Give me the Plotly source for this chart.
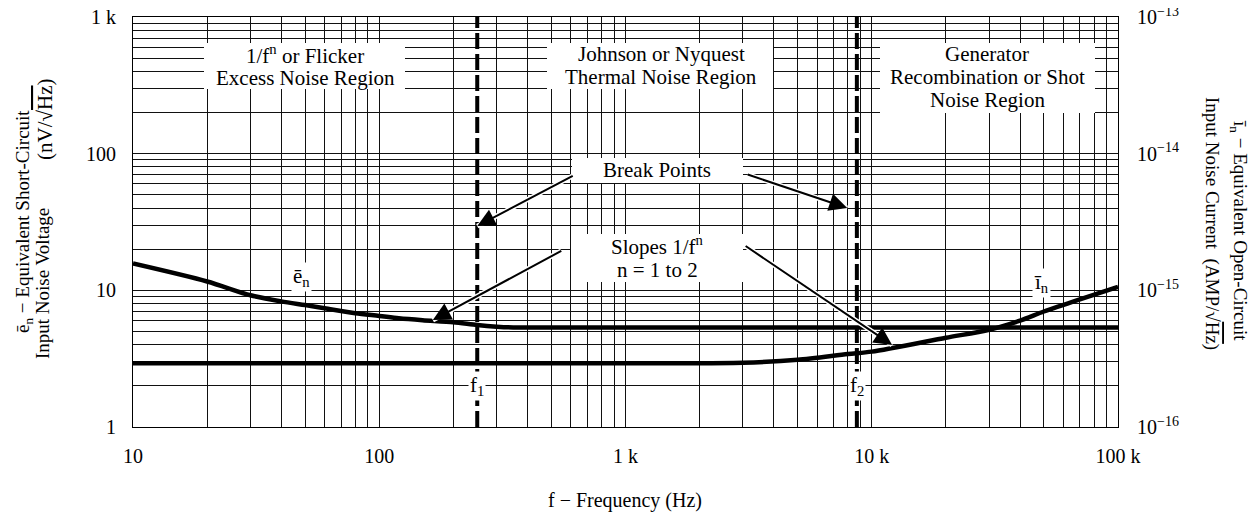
import numpy as np
import plotly.graph_objects as go

# ---------------- data ----------------
freq_en = [10, 20, 30, 40, 50, 60, 80, 100, 120, 150, 200, 250, 300, 350, 500, 1000, 10000, 100000]
e_n = [15.7, 11.6, 9.2, 8.3, 7.8, 7.4, 6.8, 6.5, 6.25, 6.05, 5.85, 5.57, 5.42, 5.35, 5.35, 5.35, 5.35, 5.35]

freq_in = [10, 100, 1000, 3000, 5000, 8000, 10000, 20000, 30000, 40000, 50000, 70000, 100000]
i_n = [2.93e-16, 2.93e-16, 2.93e-16, 2.95e-16, 3.1e-16, 3.42e-16, 3.56e-16, 4.5e-16, 5.15e-16,
       6.0e-16, 7.0e-16, 8.6e-16, 1.06e-15]

f1 = 250
f2 = 8700

x_tick_vals = [10, 100, 1000, 10000, 100000]
x_tick_text = ["10", "100", "1 k", "10 k", "100 k"]
y_tick_vals = [1, 10, 100, 1000]
y_tick_text = ["1", "10", "100", "1 k"]
y2_tick_vals = [1e-16, 1e-15, 1e-14, 1e-13]
y2_tick_text = ["10<sup>\u221216</sup>", "10<sup>\u221215</sup>", "10<sup>\u221214</sup>", "10<sup>\u221213</sup>"]

# ---------------- layout geometry ----------------
OFF = 8  # default page body margin
W, H = 1258 - OFF, 516 - OFF
ML, MR, MT, MB = 125, 140, 9, 89
PW, PH = W - ML - MR, H - MT - MB
FONT = "Liberation Serif, Times New Roman, serif"


def px(x):
    return (x - OFF - ML) / PW


def py(y):
    return (H - MB - (y - OFF)) / PH


def grid_vals(lo_exp, hi_exp):
    vals = []
    for k in range(lo_exp, hi_exp):
        for m in range(1, 10):
            vals.append(m * 10 ** k)
    vals.append(10 ** hi_exp)
    return vals


def grid_text(vals, major_vals, major_text):
    out = []
    for v in vals:
        match = [t for mv, t in zip(major_vals, major_text) if abs(np.log10(v) - np.log10(mv)) < 1e-9]
        out.append(match[0] if match else " ")
    return out


xg = grid_vals(1, 5)
yg = grid_vals(0, 3)

fig = go.Figure()

# break-point dashed lines
for f in (f1, f2):
    fig.add_trace(go.Scatter(x=[f, f], y=[1, 1000], mode="lines",
                             line=dict(color="black", width=4, dash="16px,5px"),
                             showlegend=False, hoverinfo="skip"))

fig.add_trace(go.Scatter(x=freq_en, y=e_n, mode="lines",
                         line=dict(color="black", width=4.5, shape="spline", smoothing=0.8),
                         showlegend=False))
fig.add_trace(go.Scatter(x=freq_in, y=i_n, mode="lines", yaxis="y2",
                         line=dict(color="black", width=4.5, shape="spline", smoothing=0.8),
                         showlegend=False))

axis_common = dict(showline=True, linecolor="black", linewidth=1, ticks="", automargin=False,
                   tickangle=0,
                   tickfont=dict(family=FONT, size=20, color="black"), zeroline=False)

fig.update_layout(
    width=W, height=H,
    margin=dict(l=ML, r=MR, t=MT, b=MB, autoexpand=False),
    paper_bgcolor="white", plot_bgcolor="white",
    font=dict(family=FONT, size=20, color="black"),
    xaxis=dict(type="log", range=[1, 5], tickmode="array", tickvals=xg,
               ticktext=grid_text(xg, x_tick_vals, x_tick_text), mirror=True,
               gridcolor="#111111", gridwidth=1,
               ticklabelstandoff=11, **axis_common),
    yaxis=dict(type="log", range=[0, 3], tickmode="array", tickvals=yg,
               ticktext=grid_text(yg, y_tick_vals, y_tick_text), mirror=True,
               gridcolor="#111111", gridwidth=1,
               ticklabelstandoff=12, **axis_common),
    yaxis2=dict(type="log", range=[-16, -13], overlaying="y", side="right",
                tickmode="array", tickvals=y2_tick_vals, ticktext=y2_tick_text,
                showgrid=False, ticklabelstandoff=14, **axis_common),
)

# white boxes behind text labels (page pixel coordinates -> paper)
boxes = [
    (204, 43, 405, 89),
    (547, 43, 773, 89),
    (880, 43, 1095, 113),
    (572, 158, 743, 183),
    (571, 234, 743, 282),
]
for x0, y0, x1, y1 in boxes:
    fig.add_shape(type="rect", xref="paper", yref="paper",
                  x0=px(x0), x1=px(x1), y0=py(y1), y1=py(y0),
                  fillcolor="white", line=dict(width=0), layer="above")

texts = [
    ("1/f<sup>n</sup> or Flicker", 305, 55),
    ("Excess Noise Region", 305, 78),
    ("Johnson or Nyquest", 661, 54),
    ("Thermal Noise Region", 661, 77),
    ("Generator", 987, 54),
    ("Recombination or Shot", 987, 77),
    ("Noise Region", 987, 100),
    ("Break Points", 657, 170),
    ("Slopes 1/f<sup>n</sup>", 657, 245),
    ("n = 1 to 2", 657, 270),
]
for t, x, y in texts:
    fig.add_annotation(text=t, xref="paper", yref="paper", x=px(x), y=py(y),
                       xanchor="center", yanchor="middle", showarrow=False,
                       font=dict(family=FONT, size=21, color="black"))

# arrows: (tip x, tip y in data units, tail offset px)
arrows = [
    (f1 * 1.0, 29.5, 97, -51),
    (7950, 40, -101, -34),
    (165, 6.06, 130, -70),
    (12100, 3.98, -148, -100),
]
for xa, ya, ax, ay in arrows:
    fig.add_annotation(x=np.log10(xa), y=np.log10(ya), xref="x", yref="y",
                       ax=ax, ay=ay, axref="pixel", ayref="pixel",
                       showarrow=True, arrowhead=0, arrowwidth=5, arrowcolor="white", text="")
    fig.add_annotation(x=np.log10(xa), y=np.log10(ya), xref="x", yref="y",
                       ax=ax, ay=ay, axref="pixel", ayref="pixel",
                       showarrow=True, arrowhead=2, arrowsize=1.8,
                       arrowwidth=2, arrowcolor="black", text="")

# curve & break labels
labels = [
    ("\u0113<sub>n</sub>", 48.5, 12.5),
    ("i\u0304<sub>n</sub>", 49000, 11.3),
    ("f<sub>1</sub>", f1, 2),
    ("f<sub>2</sub>", f2, 2),
]
for t, xv, yv in labels:
    fig.add_annotation(text=t, x=np.log10(xv), y=np.log10(yv), xref="x", yref="y",
                       showarrow=False, bgcolor="white", borderpad=1,
                       font=dict(family=FONT, size=21, color="black"))

# axis titles
HZ = "\u221a<span style='text-decoration:overline'>Hz</span>"
ytitles = [
    ("\u0113<sub>n</sub> \u2212 Equivalent Short-Circuit", 24, 222, -90, 19),
    ("Input Noise Voltage", 42, 284, -90, 19),
    ("(nV/" + HZ + ")", 45, 119, -90, 21),
    ("i\u0304<sub>n</sub> \u2212 Equivalent Open-Circuit", 1239, 230, 90, 19),
    ("Input Noise Current  (AMP/" + HZ + ")", 1212, 223, 90, 19),
]
for t, x, y, ang, fs in ytitles:
    fig.add_annotation(text=t, xref="paper", yref="paper", x=px(x), y=py(y),
                       xanchor="center", yanchor="middle", showarrow=False, textangle=ang,
                       font=dict(family=FONT, size=fs, color="black"))

fig.add_annotation(text="f \u2212 Frequency (Hz)", xref="paper", yref="paper",
                   x=px(625), y=py(500), xanchor="center", yanchor="middle", showarrow=False,
                   font=dict(family=FONT, size=20, color="black"))

fig.write_html("out.html")
